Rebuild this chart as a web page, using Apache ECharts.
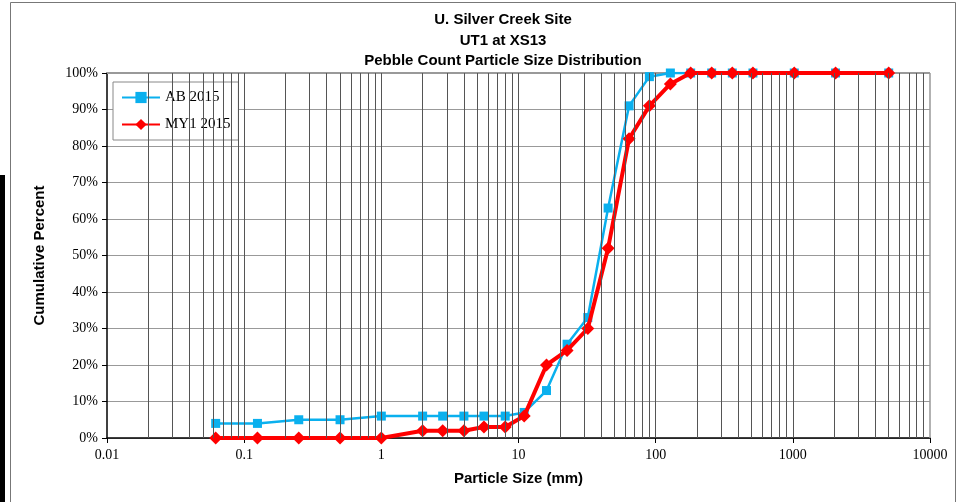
<!DOCTYPE html>
<html>
<head>
<meta charset="utf-8">
<script src="https://cdn.jsdelivr.net/npm/echarts@6/dist/echarts.min.js"></script>
<style>
  html, body { margin: 0; padding: 0; background: #fff; }
  #chart { width: 963px; height: 502px; }
</style>
</head>
<body>
<div id="chart"></div>
<script>
// particle sizes (mm) and cumulative percent finer
const sizes = [0.062, 0.125, 0.25, 0.5, 1, 2, 2.8, 4, 5.6, 8, 11, 16, 22.6, 32, 45, 64, 90, 128, 180, 256, 362, 512, 1024, 2048, 5000]
const ab2015 = [4, 4, 5, 5, 6, 6, 6, 6, 6, 6, 7, 13, 25.7, 33, 63, 91, 99, 100, 100, 100, 100, 100, 100, 100, 100]
const my12015 = [0, 0, 0, 0, 0, 2, 2, 2, 3, 3, 6, 20, 24, 30, 52, 82, 91, 97, 100, 100, 100, 100, 100, 100, 100]
const xTickLabels = ['0.01', '0.1', '1', '10', '100', '1000', '10000']
const yTicks = [0, 10, 20, 30, 40, 50, 60, 70, 80, 90, 100]

// vertical grid at 1..9 of every decade
const decades = [0.01, 0.1, 1, 10, 100, 1000]
const vGrid = []
decades.forEach(d => {
  for (let k = 2; k <= 9; k++) vGrid.push(+(d * k).toPrecision(3))
  if (d > 0.01) vGrid.push(d)
})

const chart = echarts.init(document.getElementById('chart'))

const serif = '"Liberation Serif", "Times New Roman", serif'
const sans = '"Liberation Sans", Arial, sans-serif'

chart.setOption({
  animation: false,
  title: {
    text: 'U. Silver Creek Site\nUT1 at XS13\nPebble Count Particle Size Distribution',
    left: 498,
    textAlign: 'center',
    top: 5,
    textStyle: { fontFamily: sans, fontWeight: 'bold', fontSize: 15, lineHeight: 20.5, color: '#000' }
  },
  legend: {
    left: 113,
    top: 82,
    orient: 'vertical',
    itemGap: 12,
    itemWidth: 38,
    itemHeight: 14,
    padding: [8, 8, 8, 8],
    backgroundColor: '#fff',
    borderColor: '#888',
    borderWidth: 1,
    borderRadius: 0,
    textStyle: { fontFamily: serif, fontSize: 15, color: '#000' },
    data: ['AB 2015', 'MY1 2015']
  },
  grid: { left: 107, right: 33, top: 73, bottom: 64 },
  xAxis: {
    type: 'log',
    logBase: 10,
    min: 0.01,
    max: 10000,
    name: 'Particle Size (mm)',
    nameLocation: 'middle',
    nameGap: 33,
    nameTextStyle: { fontFamily: sans, fontWeight: 'bold', fontSize: 15, color: '#000' },
    axisLine: { lineStyle: { color: '#000', width: 1.5 } },
    axisTick: { show: true, length: 5, lineStyle: { color: '#000' } },
    axisLabel: {
      fontFamily: serif, fontSize: 14, color: '#000', margin: 10,
      formatter: (v) => {
        const i = Math.round(Math.log10(v)) + 2
        return xTickLabels[i] !== undefined ? xTickLabels[i] : ''
      }
    },
    splitLine: { show: false }
  },
  yAxis: {
    type: 'value',
    min: 0,
    max: 100,
    interval: 10,
    name: 'Cumulative Percent',
    nameLocation: 'middle',
    nameGap: 60,
    nameTextStyle: { fontFamily: sans, fontWeight: 'bold', fontSize: 15, color: '#000' },
    axisLine: { show: true, lineStyle: { color: '#000', width: 1.5 } },
    axisTick: { show: true, length: 5, lineStyle: { color: '#000' } },
    axisLabel: {
      fontFamily: serif, fontSize: 14, color: '#000', margin: 9,
      formatter: (v) => yTicks.includes(v) ? v + '%' : ''
    },
    splitLine: { show: true, lineStyle: { color: '#999', width: 1 } }
  },
  graphic: [
    { type: 'rect', shape: { x: 10.5, y: 2.5, width: 945, height: 520 }, style: { fill: 'none', stroke: '#777', lineWidth: 1 }, silent: true },
    { type: 'rect', shape: { x: 0, y: 175, width: 5, height: 330 }, style: { fill: '#000' }, silent: true },
    { type: 'line', shape: { x1: 107, y1: 73, x2: 930, y2: 73 }, style: { stroke: '#999', lineWidth: 2 }, silent: true, z: 1 },
    { type: 'line', shape: { x1: 930, y1: 73, x2: 930, y2: 438 }, style: { stroke: '#999', lineWidth: 1.5 }, silent: true, z: 1 }
  ],
  series: [
    {
      name: 'grid',
      type: 'line',
      data: [],
      silent: true,
      markLine: {
        silent: true,
        symbol: 'none',
        label: { show: false },
        animation: false,
        lineStyle: { color: '#555', width: 1, type: 'solid' },
        data: vGrid.map(v => ({ xAxis: v }))
      }
    },
    {
      name: 'AB 2015',
      type: 'line',
      data: sizes.map((s, i) => [s, ab2015[i]]),
      color: '#0AB0EE',
      lineStyle: { width: 2.5, color: '#0AB0EE' },
      symbol: 'rect',
      symbolSize: 9,
      itemStyle: { color: '#0AB0EE' },
      z: 3
    },
    {
      name: 'MY1 2015',
      type: 'line',
      data: sizes.map((s, i) => [s, my12015[i]]),
      color: '#FF0000',
      lineStyle: { width: 4, color: '#FF0000' },
      symbol: 'diamond',
      symbolSize: 13,
      itemStyle: { color: '#FF0000' },
      z: 4
    }
  ]
})
</script>
</body>
</html>
